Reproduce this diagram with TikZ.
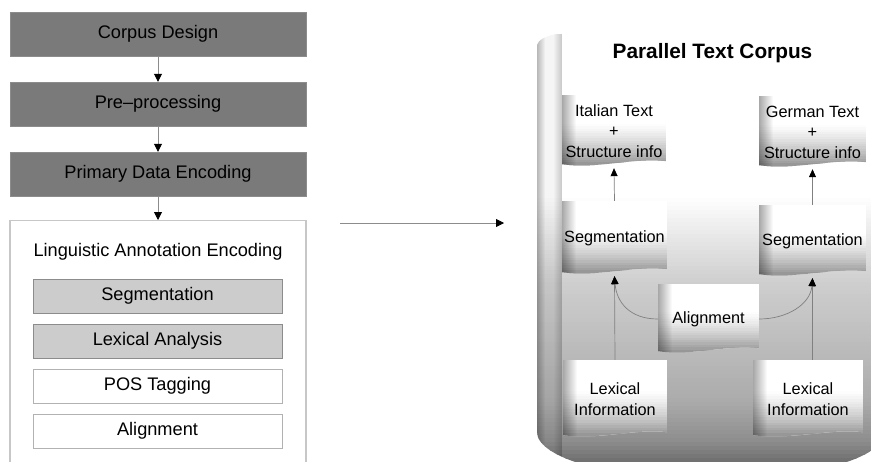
\documentclass[tikz,border=0pt]{standalone}
\usepackage{fontspec}
\setmainfont{Liberation Sans}
\usetikzlibrary{arrows.meta,calc,backgrounds}

\tikzset{
  leftfont/.style={font=\fontsize{18.2}{22}\selectfont},
  stage/.style={leftfont, draw=black!45, fill=black!52, minimum width=296pt,
    minimum height=44pt, inner sep=0pt},
  substage/.style={leftfont, draw=black!45, fill=black!20, minimum width=249pt,
    minimum height=34pt, inner sep=0pt},
  plainstage/.style={substage, draw=black!30, fill=white},
  flow/.style={draw=black!45, line width=0.8pt,
    -{Triangle[length=8pt,width=8pt,black]}},
  rflow/.style={draw=black!50, line width=0.7pt,
    -{Triangle[length=8pt,width=7pt,black]}},
  sheet/.style={inner sep=0pt, align=center,
    font=\fontsize{16.3}{20.5}\selectfont},
}

% shaded sheet with a wavy lower edge, behind the sheet node #1
\newcommand\sheetback[1]{%
  \begin{scope}
    \clip (#1.north west) -- (#1.north east) -- ($(#1.south east)+(0,6pt)$)
      .. controls ($(#1.south west)!0.7!(#1.south east)+(0,10pt)$)
      and ($(#1.south west)!0.35!(#1.south east)+(0,-2pt)$)
      .. ($(#1.south west)+(0,3pt)$) -- cycle;
    \fill[white] (#1.north west) rectangle (#1.south east);
    \foreach \k in {0,...,29}{
      \pgfmathsetmacro\ta{\k/30}
      \pgfmathsetmacro\tb{(\k+1)/30}
      \pgfmathsetmacro\u{max(\ta-0.38,0)/0.62}
      \pgfmathsetmacro\p{48*(0.55*\u+0.45*\u*\u)}
      \fill[black!\p] ($(#1.north west)!\ta!(#1.south west)$)
        rectangle ($(#1.north east)!\tb!(#1.south east)+(0,-1pt)$);
    }
    \foreach \k in {0,...,13}{
      \pgfmathsetmacro\op{0.34*(1-\k/14)}
      \fill[black, opacity=\op] ($(#1.north west)+(\k pt,0)$)
        rectangle ($(#1.south west)+(\k pt+1.1pt,0)$);
    }
  \end{scope}}

\begin{document}
\begin{tikzpicture}[x=1pt,y=-1pt]
\useasboundingbox (0,0) rectangle (871,461);

% ---- processing pipeline ----
\node[stage] (design)  at (158,34)  {Corpus Design};
\node[stage] (prep)    at (158,104) {Pre–processing};
\node[stage] (primary) at (158,174) {Primary Data Encoding};
\node[draw=black!22, line width=1.2pt, minimum width=296pt, minimum height=262pt,
      anchor=north, inner sep=0pt] (annot) at (158,220) {};
\node[leftfont] (annottitle) at (158,252) {Linguistic Annotation Encoding};
\node[substage]   (aseg)   at (157.5,296) {Segmentation};
\node[substage]   (alex)   at (157.5,341) {Lexical Analysis};
\node[plainstage] (apos)   at (157.5,386) {POS Tagging};
\node[plainstage] (aalign) at (157.5,431) {Alignment};

\draw[flow] (design) -- (prep);
\draw[flow] (prep) -- (primary);
\draw[flow] (primary) -- (annot);

\coordinate (midfrom) at (340,223);
\coordinate (midto) at (504,223);
\draw[flow] (midfrom) -- (midto);

% ---- corpus drum: texts and sheets ----
\node[font=\bfseries\fontsize{20.8}{24}\selectfont] (title) at (712.5,53) {Parallel Text Corpus};

\node[sheet, minimum width=104pt, minimum height=72pt] (itl)  at (614,131) {Italian Text\\+\\Structure info};
\node[sheet, minimum width=107pt, minimum height=72pt] (ger)  at (812.5,132) {German Text\\+\\Structure info};
\node[sheet, minimum width=105pt, minimum height=74pt] (seg1) at (614.5,238) {Segmentation};
\node[sheet, minimum width=107pt, minimum height=72pt] (seg2) at (812.5,241) {Segmentation};
\node[sheet, minimum width=101pt, minimum height=70pt] (algn) at (708.5,319) {Alignment};
\node[sheet, minimum width=104pt, minimum height=78pt] (lex1) at (615,399) {Lexical\\Information};
\node[sheet, minimum width=110pt, minimum height=78pt] (lex2) at (808,399) {Lexical\\Information};

\begin{scope}[on background layer]
  % drum body, lighter at the top, darker toward the rounded base
  \begin{scope}
    \clip (537,45) .. controls (538,40) and (546,36) .. (556,34) -- (885,34)
      -- (885,432) .. controls (885,458.5) and (807,480) .. (711,480)
      .. controls (615,480) and (537,458.5) .. (537,432) -- cycle;
    \foreach \k in {0,...,112}{
      \pgfmathsetmacro\yy{34+4*\k}
      \pgfmathsetmacro\p{\yy<195 ? 0 : (\yy<230 ? (\yy-195)*8/35 :
        (\yy<280 ? 8+(\yy-230)*11/50 : (\yy<350 ? 19+(\yy-280)*8/70 :
        (\yy<400 ? 27+(\yy-350)*6/50 : (\yy<440 ? 33+(\yy-400)*12/40 :
        min(45+(\yy-440)*0.6,58))))))}
      \fill[black!\p] (530,\yy) rectangle (890,\yy+4.6);
    }
    % rounded wall on the left
    \foreach \k in {0,...,24}{
      \pgfmathsetmacro\op{\k<8 ? 0.28-0.03*\k : (\k<16 ? 0.04 : 0.04+0.02*(\k-16))}
      \fill[black, opacity=\op] (537+\k,30) rectangle (538.1+\k,470);
    }
  \end{scope}
  \foreach \s in {itl,ger,seg1,seg2,algn,lex1,lex2}{\sheetback{\s}}
\end{scope}

% connectors inside the drum
\draw[rflow] (seg1.north) -- ([yshift=-1pt]itl.south);
\draw[rflow] (seg2.north) -- ([yshift=-1pt]ger.south);
\draw[rflow] (lex1.north) -- ([yshift=-1pt]seg1.south);
\draw[rflow] (lex2.north -| seg2.south) -- ([yshift=-1pt]seg2.south);
\draw[rflow] (algn.west) .. controls +(-28,0) and +(2,26) .. ([yshift=-1pt]seg1.south);
\draw[rflow] (algn.east) .. controls +(28,0) and +(-2,26) .. ([yshift=-1pt]seg2.south);
\end{tikzpicture}
\end{document}
